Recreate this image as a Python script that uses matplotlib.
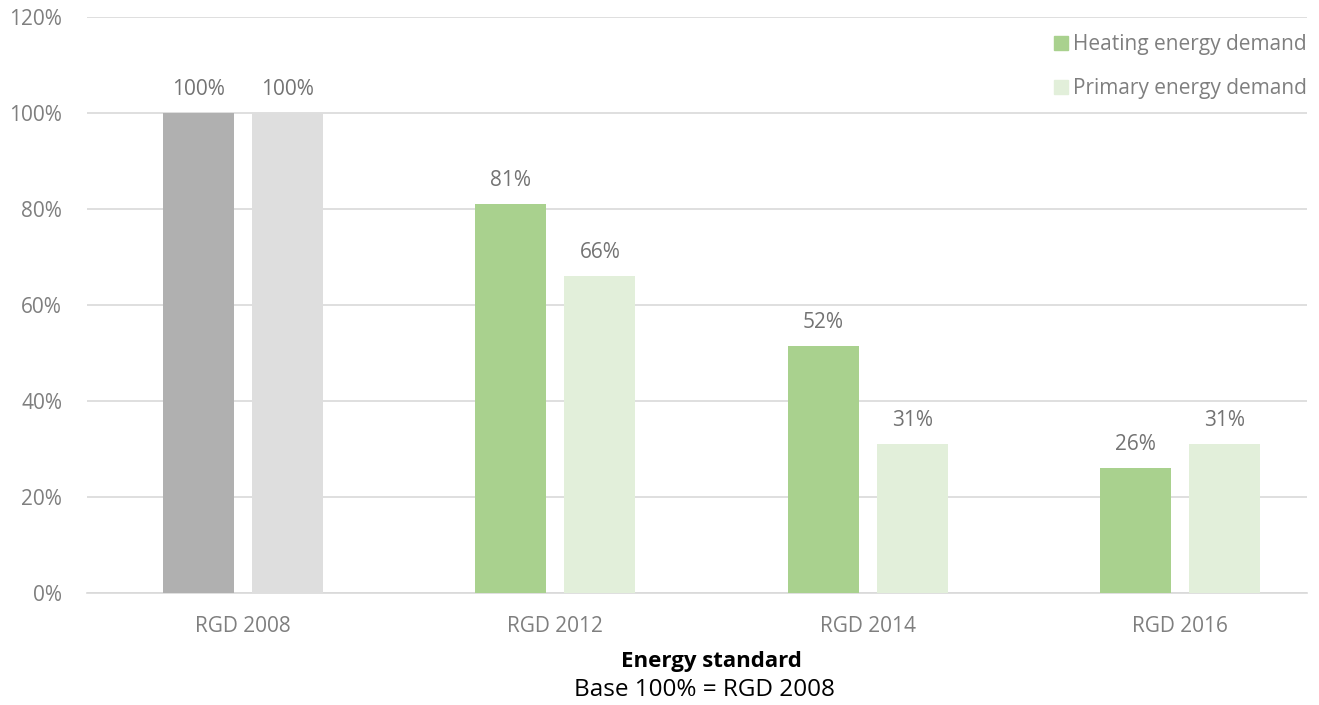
import matplotlib.pyplot as plt
import numpy as np
from matplotlib.patches import Patch

categories = ["RGD 2008", "RGD 2012", "RGD 2014", "RGD 2016"]
heating = [100, 81, 51.5, 26]
primary = [100, 66, 31, 31]
yticks = [0, 20, 40, 60, 80, 100, 120]

plt.rcParams['font.family'] = ['Open Sans', 'DejaVu Sans']

W, H = 1319, 705
fig = plt.figure(figsize=(W/100, H/100), dpi=100)
left, right, top, bottom = 87, 1307, 17, 593
ax = fig.add_axes([left/W, 1-bottom/H, (right-left)/W, (bottom-top)/H])

x = np.arange(len(categories))
bw = 0.227
off = 0.1425
heat_cols = ['#B0B0B0'] + ['#A9D18E'] * 3
prim_cols = ['#DEDEDE'] + ['#E2EFDA'] * 3
b1 = ax.bar(x - off, heating, bw, color=heat_cols, zorder=3)
b2 = ax.bar(x + off, primary, bw, color=prim_cols, zorder=3)

for bars, vals in ((b1, heating), (b2, primary)):
    for r, v in zip(bars, vals):
        ax.annotate(f"{v:.0f}%", (r.get_x() + r.get_width()/2, v), xytext=(0, 17),
                    textcoords='offset points', ha='center', va='center',
                    fontsize=15, color='#737373')

ax.set_ylim(0, 120)
ax.set_xlim(-0.5, (right - 243) / 312.3)
ax.set_yticks(yticks)
ax.set_yticklabels([f"{t}%" for t in yticks])
ax.set_xticks(x)
ax.set_xticklabels(categories)
ax.tick_params(axis='both', length=0, labelsize=15, labelcolor='#7F7F7F')
ax.tick_params(axis='y', pad=18)
ax.tick_params(axis='x', pad=16.5)
ax.grid(axis='y', color='#D9D9D9', linewidth=1.2, zorder=0)
for s in ['top', 'right', 'left']:
    ax.spines[s].set_visible(False)
ax.spines['bottom'].set_color('#D9D9D9')
ax.spines['bottom'].set_linewidth(1.2)

handles = [Patch(color='#A9D18E'), Patch(color='#E2EFDA')]
leg = ax.legend(handles, ["Heating energy demand", "Primary energy demand"],
                loc='upper right', bbox_to_anchor=(1.0, 1 - 17/576), frameon=False,
                fontsize=15, labelcolor='#7F7F7F', handlelength=0.65, handleheight=0.65,
                handletextpad=0.25, labelspacing=1.1, borderpad=0, borderaxespad=0)

fig.text(711 / W, 1 - 662/H, "Energy standard", ha='center', va='center',
         fontsize=16, fontweight='bold', color='black')
fig.text(704 / W, 1 - 690/H, "Base 100% = RGD 2008", ha='center', va='center',
         fontsize=17.5, color='black')

fig.savefig('out.png', dpi=100)
